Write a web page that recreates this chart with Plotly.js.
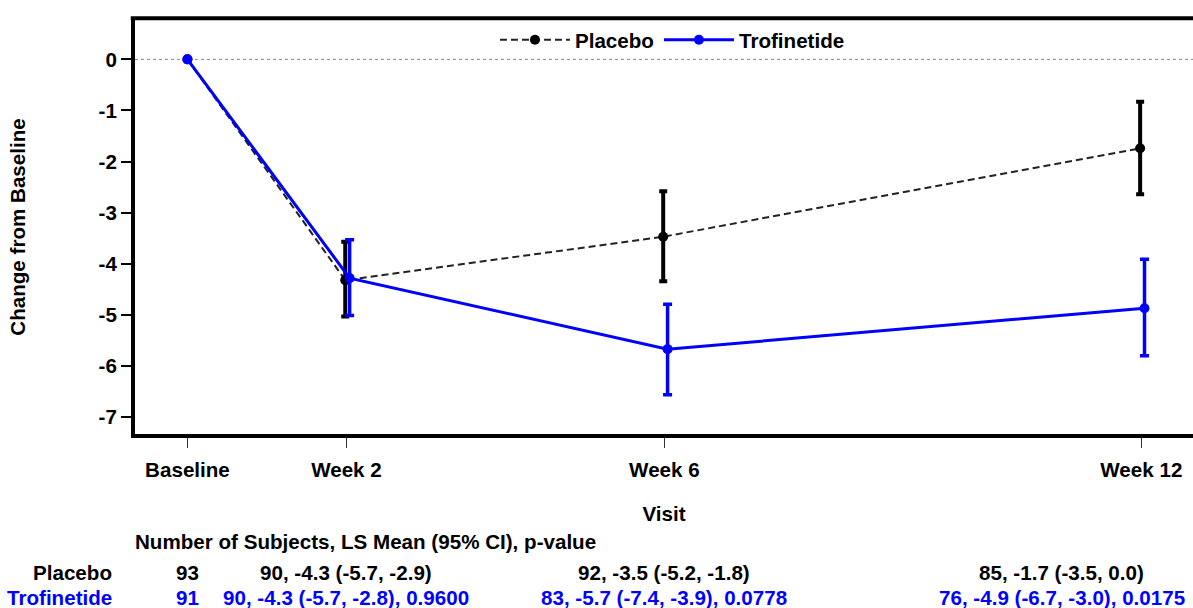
<!DOCTYPE html>
<html>
<head>
<meta charset="utf-8">
<script src="https://cdn.plot.ly/plotly-3.0.1.min.js"></script>
<style>
  html, body { margin: 0; padding: 0; background: #fff; overflow: hidden; }
  #chart { width: 1193px; height: 608px; }
</style>
</head>
<body>
<div id="chart"></div>
<script>
// ---- data ----
const visits = ['Baseline', 'Week 2', 'Week 6', 'Week 12'];
const visitWeek = [0, 2, 6, 12];

const placeboMean = [0, -4.32, -3.47, -1.74];
const placeboLow  = [0, -5.03, -4.34, -2.64];
const placeboHigh = [0, -3.57, -2.58, -0.83];

const trofMean = [0, -4.28, -5.67, -4.87];
const trofLow  = [0, -5.01, -6.56, -5.80];
const trofHigh = [0, -3.53, -4.79, -3.91];

const yTickVals   = [0, -1, -2, -3, -4, -5, -6, -7];
const yTickLabels = ['0', '-1', '-2', '-3', '-4', '-5', '-6', '-7'];

const tableHeader = 'Number of Subjects, LS Mean (95% CI), p-value';
const placeboRow = ['93', '90, -4.3 (-5.7, -2.9)', '92, -3.5 (-5.2, -1.8)', '85, -1.7 (-3.5, 0.0)'];
const trofRow    = ['91', '90, -4.3 (-5.7, -2.8), 0.9600', '83, -5.7 (-7.4, -3.9), 0.0778', '76, -4.9 (-6.7, -3.0), 0.0175'];

// ---- styling ----
const FONT = 'Liberation Sans, Arial, Helvetica, sans-serif';
const BLUE = '#0000FF';
const BLACK = '#000000';

function plus(mean, high) { return mean.map((m, i) => i === 0 ? NaN : high[i] - m); }
function minus(mean, low) { return mean.map((m, i) => i === 0 ? NaN : m - low[i]); }

const placebo = {
  type: 'scatter', mode: 'lines+markers', name: 'Placebo',
  x: visitWeek.map(w => w > 0 ? w - 0.015 : w), y: placeboMean,
  line: { color: '#222222', width: 2, dash: '7px,4px' },
  marker: { color: BLACK, size: 10, symbol: 'circle' },
  error_y: { type: 'data', symmetric: false, array: plus(placeboMean, placeboHigh),
             arrayminus: minus(placeboMean, placeboLow), color: BLACK, thickness: 4, width: 4 }
};
const trof = {
  type: 'scatter', mode: 'lines+markers', name: 'Trofinetide',
  x: visitWeek.map(w => w > 0 ? w + 0.04 : w), y: trofMean,
  line: { color: BLUE, width: 3 },
  marker: { color: BLUE, size: 10, symbol: 'circle' },
  error_y: { type: 'data', symmetric: false, array: plus(trofMean, trofHigh),
             arrayminus: minus(trofMean, trofLow), color: BLUE, thickness: 3.5, width: 4.5 }
};

const plotTop = 20, plotBottom = 434, plotH = plotBottom - plotTop;
const py = p => (plotBottom - p) / plotH;   // pixel row -> paper y

const baseFont = { family: FONT, size: 20.6, weight: 'bold', color: BLACK };
const blueFont = Object.assign({}, baseFont, { color: BLUE });
const annotations = [];
annotations.push({ xref: 'paper', yref: 'paper', x: -0.002, y: py(541), xanchor: 'left', yanchor: 'middle',
  text: tableHeader, showarrow: false, font: baseFont });
annotations.push({ xref: 'paper', yref: 'paper', x: -0.02, y: py(572), xanchor: 'right', yanchor: 'middle',
  text: 'Placebo', showarrow: false, font: baseFont });
annotations.push({ xref: 'paper', yref: 'paper', x: -0.02, y: py(597), xanchor: 'right', yanchor: 'middle',
  text: 'Trofinetide', showarrow: false, font: blueFont });
const colX = [0, 2, 6, 11];
visits.forEach((v, i) => {
  annotations.push({ xref: 'x', yref: 'paper', x: colX[i], y: py(572), xanchor: 'center', yanchor: 'middle',
    text: placeboRow[i], showarrow: false, font: baseFont });
  annotations.push({ xref: 'x', yref: 'paper', x: colX[i], y: py(597), xanchor: 'center', yanchor: 'middle',
    text: trofRow[i], showarrow: false, font: blueFont });
});

const layout = {
  width: 1193, height: 608,
  margin: { l: 135, r: 0, t: plotTop, b: 608 - plotBottom },
  paper_bgcolor: '#ffffff', plot_bgcolor: '#ffffff',
  font: baseFont,
  showlegend: true,
  legend: { orientation: 'h', x: 0.508, y: 0.952, xanchor: 'center', yanchor: 'middle',
            font: baseFont, itemwidth: 70, bgcolor: 'rgba(0,0,0,0)' },
  xaxis: {
    range: [-0.66, 12.65], tickvals: visitWeek, ticktext: visits,
    showgrid: false, zeroline: false, showline: true, linecolor: BLACK, linewidth: 4,
    ticks: 'outside', ticklen: 10, tickwidth: 1.5, tickcolor: '#333',
    tickfont: baseFont, ticklabelstandoff: 4,
    title: { text: 'Visit', font: baseFont, standoff: 28 }
  },
  yaxis: {
    range: [-7.33, 0.77], tickvals: yTickVals, ticktext: yTickLabels,
    showgrid: false, zeroline: false, showline: true, linecolor: BLACK, linewidth: 4,
    ticks: 'outside', ticklen: 10, tickwidth: 2, tickcolor: BLACK,
    tickfont: baseFont,
    title: { text: 'Change from Baseline', font: baseFont, standoff: 68 }
  },
  shapes: [
    { type: 'line', xref: 'paper', yref: 'y', x0: 0, x1: 1, y0: 0, y1: 0, layer: 'below',
      line: { color: '#888888', width: 1, dash: 'dot' } },
    { type: 'line', xref: 'paper', yref: 'paper', x0: -0.004, x1: 1, y0: 1.004, y1: 1.004,
      line: { color: BLACK, width: 4 } }
  ],
  annotations: annotations
};

Plotly.newPlot('chart', [placebo, trof], layout, { displayModeBar: false, staticPlot: true });
</script>
</body>
</html>
